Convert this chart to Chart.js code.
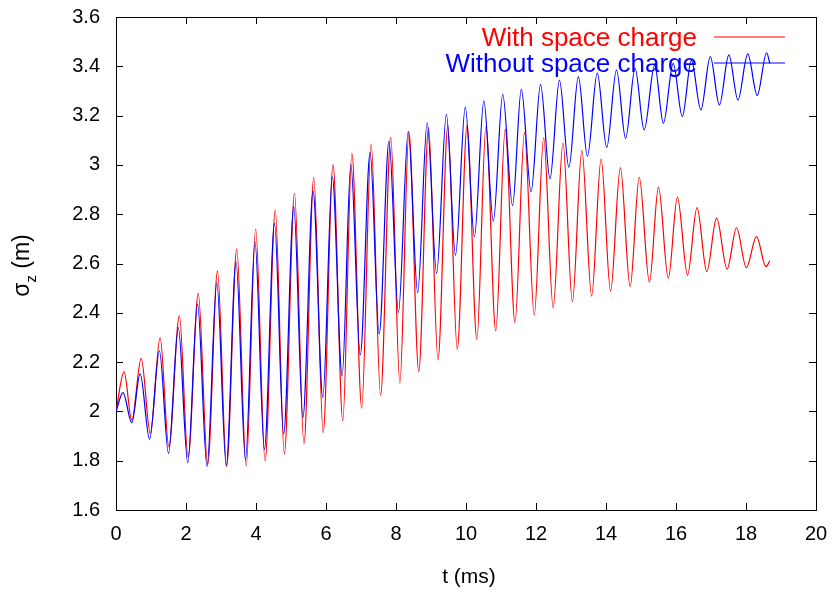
<!DOCTYPE html>
<html>
<head>
<meta charset="utf-8">
<title>Bunch length</title>
<script src="https://cdn.jsdelivr.net/npm/chart.js@4.4.1/dist/chart.umd.min.js"></script>
<style>
  html, body { margin: 0; padding: 0; background: #fff; }
  canvas { display: block; }
</style>
</head>
<body>
<canvas id="myChart" width="833" height="594"></canvas>
<script>
/* globals Chart:false */

// sigma_z at the turning points of each oscillation (t in ms, sigma in m)
const tWith = [
  0, 0.23, 0.45, 0.72, 0.98, 1.26, 1.51, 1.81, 2.06, 2.35, 2.62, 2.90, 3.16, 3.45, 3.72,
  3.99, 4.26, 4.55, 4.81, 5.10, 5.37, 5.65, 5.92, 6.20, 6.48, 6.74, 7.02, 7.29, 7.56,
  7.85, 8.11, 8.37, 8.65, 8.93, 9.20, 9.48, 9.75, 10.03, 10.31, 10.57, 10.85, 11.12,
  11.40, 11.67, 11.95, 12.22, 12.49, 12.77, 13.04, 13.31, 13.59, 13.86, 14.13, 14.41,
  14.69, 14.95, 15.24, 15.50, 15.78, 16.04, 16.33, 16.60, 16.88, 17.16, 17.46, 17.73,
  18.01, 18.30, 18.57, 18.68
]
const sigmaWith = [
  2.0, 2.16, 1.965, 2.215, 1.911, 2.299, 1.857, 2.388, 1.814, 2.479, 1.785, 2.57, 1.776, 2.659, 1.779,
  2.74, 1.799, 2.817, 1.827, 2.885, 1.868, 2.948, 1.914, 3.001, 1.962, 3.047, 2.013, 3.084, 2.065,
  3.112, 2.114, 3.133, 2.161, 3.151, 2.209, 3.158, 2.252, 3.159, 2.292, 3.155, 2.327, 3.144,
  2.361, 3.131, 2.391, 3.11, 2.421, 3.088, 2.445, 3.058, 2.468, 3.024, 2.488, 2.989,
  2.506, 2.95, 2.525, 2.91, 2.54, 2.869, 2.553, 2.827, 2.567, 2.785, 2.577, 2.745,
  2.583, 2.709, 2.587, 2.611
]

const tWithout = [
  0, 0.20, 0.45, 0.69, 0.96, 1.24, 1.50, 1.78, 2.05, 2.33, 2.60, 2.88, 3.15, 3.43, 3.70,
  3.97, 4.24, 4.53, 4.79, 5.08, 5.34, 5.63, 5.91, 6.18, 6.46, 6.71, 6.98, 7.26, 7.52,
  7.80, 8.07, 8.35, 8.62, 8.89, 9.16, 9.44, 9.70, 9.98, 10.24, 10.51, 10.78, 11.05,
  11.33, 11.58, 11.86, 12.13, 12.40, 12.67, 12.94, 13.21, 13.47, 13.75, 14.02, 14.30,
  14.56, 14.83, 15.09, 15.39, 15.64, 15.92, 16.18, 16.44, 16.71, 16.98, 17.24, 17.51,
  17.77, 18.05, 18.32, 18.59, 18.68
]
const sigmaWithout = [
  2.0, 2.076, 1.954, 2.152, 1.887, 2.246, 1.83, 2.34, 1.792, 2.434, 1.776, 2.522, 1.78, 2.607, 1.803,
  2.689, 1.846, 2.763, 1.908, 2.831, 1.975, 2.894, 2.057, 2.952, 2.144, 3.002, 2.229, 3.051, 2.314,
  3.097, 2.402, 3.135, 2.482, 3.171, 2.56, 3.205, 2.634, 3.234, 2.709, 3.26, 2.772, 3.286,
  2.835, 3.307, 2.891, 3.327, 2.944, 3.344, 2.99, 3.358, 3.035, 3.372, 3.071, 3.385,
  3.108, 3.392, 3.142, 3.405, 3.169, 3.412, 3.196, 3.425, 3.223, 3.439, 3.243, 3.446,
  3.263, 3.45, 3.282, 3.455, 3.412
]

const seriesLabels = ['With space charge', 'Without space charge']
const xTicks = [0, 2, 4, 6, 8, 10, 12, 14, 16, 18, 20]
const yTicks = [1.6, 1.8, 2, 2.2, 2.4, 2.6, 2.8, 3, 3.2, 3.4, 3.6]

const FONT = "'Liberation Sans', Arial, Helvetica, sans-serif"
Chart.defaults.font.family = FONT
Chart.defaults.color = '#000'

// scales report no extra edge padding, so layout.padding alone places the box
function noEdgePadding(s) {
  s.paddingTop = 0
  s.paddingBottom = 0
  s.paddingLeft = 0
  s.paddingRight = 0
}

// gnuplot-like box: frame, inward ticks on all sides, key and axis titles
const gnuplotFrame = {
  id: 'gnuplotFrame',
  beforeDatasetsDraw(chart) {
    const { ctx, chartArea: a, scales: { x, y } } = chart
    const tick = 7
    ctx.save()
    ctx.strokeStyle = '#000'
    ctx.lineWidth = 1
    ctx.beginPath()
    xTicks.forEach(v => {
      const px = Math.round(x.getPixelForValue(v)) + 0.5
      ctx.moveTo(px, a.bottom); ctx.lineTo(px, a.bottom - tick)
      ctx.moveTo(px, a.top); ctx.lineTo(px, a.top + tick)
    })
    yTicks.forEach(v => {
      const py = Math.round(y.getPixelForValue(v)) + 0.5
      ctx.moveTo(a.left, py); ctx.lineTo(a.left + tick, py)
      ctx.moveTo(a.right, py); ctx.lineTo(a.right - tick, py)
    })
    ctx.stroke()
    ctx.strokeRect(Math.round(a.left) + 0.5, Math.round(a.top) + 0.5,
      Math.round(a.right - a.left), Math.round(a.bottom - a.top))

    // key, top right
    ctx.font = '26px ' + FONT
    ctx.textAlign = 'right'
    ctx.textBaseline = 'middle'
    chart.data.datasets.forEach((ds, i) => {
      const rowY = a.top + 20 + i * 26
      ctx.fillStyle = ds.borderColor
      ctx.fillText(ds.label, a.right - 119, rowY + 1.5)
      ctx.strokeStyle = ds.borderColor
      ctx.lineWidth = 1.2
      ctx.beginPath()
      ctx.moveTo(a.right - 102, rowY)
      ctx.lineTo(a.right - 31, rowY)
      ctx.stroke()
    })

    // x title
    ctx.fillStyle = '#000'
    ctx.textAlign = 'center'
    ctx.font = '21px ' + FONT
    ctx.fillText('t (ms)', (a.left + a.right) / 2 + 3, 577)

    // y title with subscript, rotated
    ctx.translate(29, (a.top + a.bottom) / 2 + 2)
    ctx.rotate(-Math.PI / 2)
    ctx.textAlign = 'left'
    ctx.textBaseline = 'alphabetic'
    const big = '23px ' + FONT
    const small = '15px ' + FONT
    ctx.font = big
    const w1 = ctx.measureText('\u03c3').width
    const w3 = ctx.measureText(' (m)').width
    ctx.font = small
    const w2 = ctx.measureText('z').width
    const x0 = -(w1 + w2 + w3) / 2
    ctx.font = big
    ctx.fillText('\u03c3', x0, 0)
    ctx.font = small
    ctx.fillText('z', x0 + w1, 7)
    ctx.font = big
    ctx.fillText(' (m)', x0 + w1 + w2, 0)
    ctx.restore()
  }
}

const ctx = document.getElementById('myChart')
new Chart(ctx, {
  type: 'line',
  data: {
    datasets: [
      {
        label: seriesLabels[0],
        data: tWith.map((t, i) => ({ x: t, y: sigmaWith[i] })),
        borderColor: '#ff0000',
        borderWidth: 1.2,
        pointRadius: 0,
        cubicInterpolationMode: 'monotone',
        order: 2
      },
      {
        label: seriesLabels[1],
        data: tWithout.map((t, i) => ({ x: t, y: sigmaWithout[i] })),
        borderColor: '#0000ff',
        borderWidth: 1.2,
        pointRadius: 0,
        cubicInterpolationMode: 'monotone',
        order: 1
      }
    ]
  },
  options: {
    responsive: false,
    animation: false,
    layout: { padding: { top: 17, right: 17, left: 0, bottom: 0 } },
    plugins: {
      legend: { display: false },
      tooltip: { enabled: false }
    },
    scales: {
      x: {
        type: 'linear',
        min: 0,
        max: 20,
        afterBuildTicks: s => { s.ticks = xTicks.map(v => ({ value: v })) },
        afterFit: s => { s.height = 84; noEdgePadding(s) },
        grid: { display: false, drawTicks: false },
        border: { display: false },
        ticks: {
          padding: 12,
          autoSkip: false,
          maxRotation: 0,
          font: { size: 20 },
          callback: v => String(v)
        }
      },
      y: {
        type: 'linear',
        min: 1.6,
        max: 3.6,
        afterBuildTicks: s => { s.ticks = yTicks.map(v => ({ value: v })) },
        afterFit: s => { s.width = 116; noEdgePadding(s) },
        grid: { display: false, drawTicks: false },
        border: { display: false },
        ticks: {
          padding: 16,
          font: { size: 20 },
          callback: v => String(v)
        }
      }
    }
  },
  plugins: [gnuplotFrame]
})
</script>
</body>
</html>
